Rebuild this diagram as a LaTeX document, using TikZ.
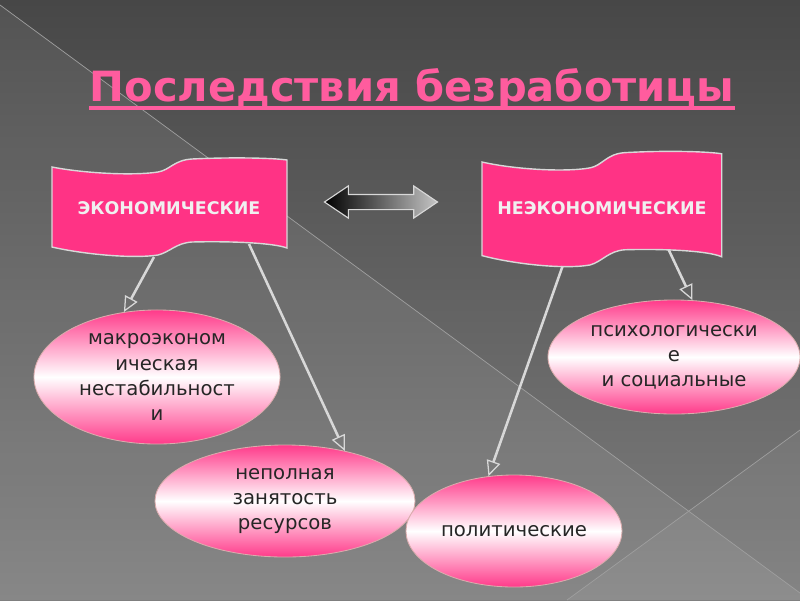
\documentclass[tikz,border=0pt]{standalone}
\usepackage{fontspec}
\setmainfont{DejaVu Sans}
\usetikzlibrary{arrows.meta}
\usetikzlibrary{shapes.geometric}
\usetikzlibrary{shapes.arrows}
\definecolor{bgtop}{HTML}{474747}
\definecolor{bgbot}{HTML}{7E7E7E}
\definecolor{flagpink}{HTML}{FF3385}
\definecolor{titlepink}{HTML}{FF5C9E}
\definecolor{bubblepink}{HTML}{FF3A8A}
\definecolor{linkgray}{HTML}{D8D8D8}
\tikzset{t/.style={font=\fontsize{29.6}{30}\selectfont\bfseries, text=titlepink, inner sep=0pt}}
\tikzset{f/.style={font=\fontsize{12.4}{13}\selectfont\bfseries, text=white!88!gray}}
\tikzset{b/.style={font=\fontsize{14}{17.8}\selectfont, align=center, text=black!85}}
\tikzset{flag/.style={fill=flagpink, draw=linkgray, line width=1pt}}
\tikzset{bubble/.style={ellipse, draw=pink!70!gray, line width=.6pt,
  top color=bubblepink, bottom color=bubblepink, middle color=white}}
\tikzset{link/.style={draw=linkgray, line width=1.8pt,
  -{Triangle[open, length=11pt, width=10pt, line width=.9pt]}}}
\tikzset{twoway/.style={double arrow, draw=linkgray, line width=.8pt,
  left color=black, right color=gray!45, inner sep=.175cm,
  minimum height=2.825cm, minimum width=.775cm,
  double arrow head extend=.2125cm, double arrow tip angle=68}}
\tikzset{bgline/.style={draw=gray!75, line width=.5pt}}
\newcommand{\wavec}{
  \filldraw[flag] (0,0)
    .. controls (30,6) and (80,9) .. (106,5)
    .. controls (118,3) and (122,-7) .. (140,-8)
    .. controls (180,-10) and (222,-9) .. (235,-7)
    -- (235,81)
    .. controls (222,76) and (180,74) .. (140,75)
    .. controls (124,76) and (118,85) .. (106,88)
    .. controls (80,92) and (30,87) .. (0,80)
    -- cycle;
}

\begin{document}
\begin{tikzpicture}[x=0.025cm, y=-0.025cm]
    \useasboundingbox (0,0) rectangle (800,600);
    \shade[top color=bgtop, bottom color=bgbot] (0,0) rectangle (800,600);
    \fill[white, opacity=.07] (0,5) -- (800,593) -- (800,600) -- (0,600) -- cycle;
    \fill[white, opacity=.05] (800,430) -- (567,600) -- (800,600) -- cycle;
    \draw[bgline] (0,5) -- (800,593);
    \draw[bgline] (800,430) -- (567,600);

    \node[t, anchor=base] (title) at (412,101) {Последствия безработицы};
    \draw[titlepink, line width=3.4pt] ([yshift=-5pt]title.base west) -- ([yshift=-5pt]title.base east);

    \begin{scope}[shift={(52,167)}]
      \wavec
      \coordinate (econ-l) at (102,90);
      \coordinate (econ-r) at (197,77);
    \end{scope}
    \node[f] (econ) at (169,208) {ЭКОНОМИЧЕСКИЕ};
    \begin{scope}[shift={(482,162)}, xscale=1.02, yscale=1.17]
      \wavec
      \coordinate (nonecon-l) at (79,89);
      \coordinate (nonecon-r) at (183,75);
    \end{scope}
    \node[f] (nonecon) at (602,208) {НЕЭКОНОМИЧЕСКИЕ};

    \node[twoway] (both) at (381,202) {};

    \node[bubble, minimum width=6.15cm, minimum height=3.35cm] (makro) at (157,377) {};
    \node[b] at (makro) {макроэконом\\ическая\\нестабильност\\и};
    \node[bubble, minimum width=6.5cm, minimum height=2.8cm] (nepoln) at (285,501) {};
    \node[b] at (nepoln) {неполная\\занятость\\ресурсов};
    \node[bubble, minimum width=6.3cm, minimum height=2.85cm] (psych) at (674,357) {};
    \node[b] at (psych) {психологически\\е\\и социальные};
    \node[bubble, minimum width=5.4cm, minimum height=2.8cm] (polit) at (514,531) {};
    \node[b] at (polit) {политические};

    \draw[link] (econ-l) -- (makro.117);
    \draw[link] (econ-r) -- (nepoln.40);
    \draw[link] (nonecon-l) -- (polit.115);
    \draw[link] (nonecon-r) -- (psych.72);
  \end{tikzpicture}
\end{document}
